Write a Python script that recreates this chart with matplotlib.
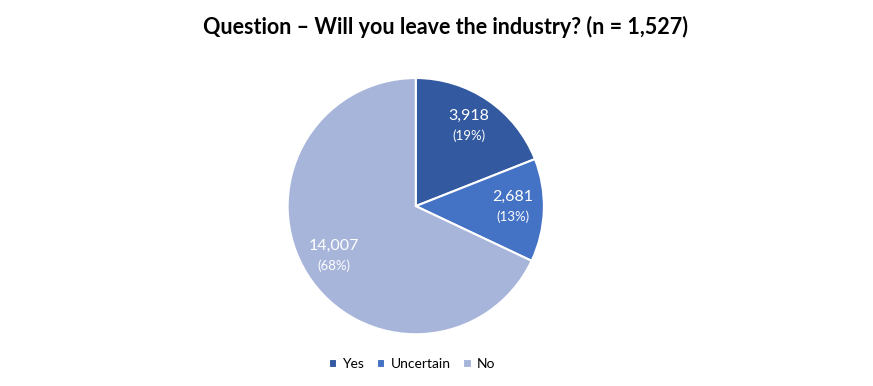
import numpy as np
import matplotlib.pyplot as plt

labels = ['Yes', 'Uncertain', 'No']
values = [3918, 2681, 14007]
percents = [19, 13, 68]
colors = ['#335AA1', '#4472C4', '#A7B5DB']

plt.rcParams['font.family'] = ['Lato', 'DejaVu Sans']

fig = plt.figure(figsize=(8.73, 3.86), dpi=100)
ax = fig.add_axes([0.3295, 0.134, 0.2935, 0.664])

wedges, _ = ax.pie(values, colors=colors, startangle=90, counterclock=False,
                   wedgeprops=dict(edgecolor='white', linewidth=1.5))
ax.set_xlim(-1, 1)
ax.set_ylim(-1, 1)
ax.set_aspect('equal')

# data labels, placed inside each slice
total = sum(values)
start = 90
dist = [0.74, 0.76, 0.76]
for i, (v, p) in enumerate(zip(values, percents)):
    ang = start - 360 * v / total / 2
    start -= 360 * v / total
    x = dist[i] * np.cos(np.radians(ang))
    y = dist[i] * np.sin(np.radians(ang))
    ax.text(x, y + 0.04, f'{v:,}', ha='center', va='bottom', color='white', fontsize=11.5)
    ax.text(x, y - 0.01, f'({p}%)', ha='center', va='top', color='white', fontsize=9.5)

fig.suptitle('Question \u2013 Will you leave the industry? (n = 1,527)',
             fontsize=15.5, fontweight='bold', x=0.51, y=0.96)

fig.legend(wedges, labels, loc='center', bbox_to_anchor=(0.472, 0.057), ncol=3,
           frameon=False, fontsize=10, handlelength=0.6, handleheight=0.6,
           handletextpad=0.4, columnspacing=0.9)

plt.savefig('out.png', dpi=100)
